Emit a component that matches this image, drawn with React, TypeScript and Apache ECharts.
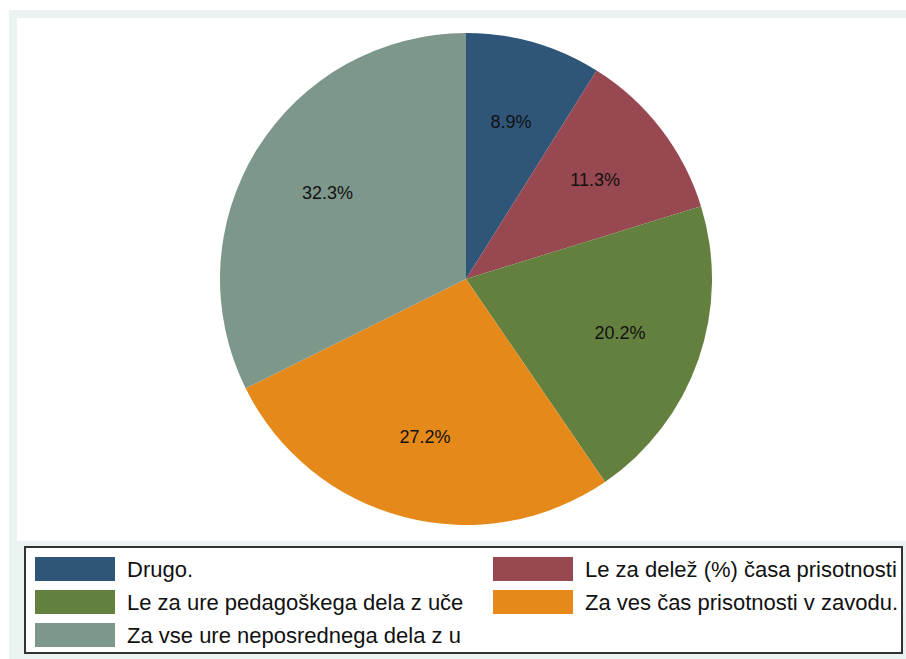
import React, { useEffect, useRef } from "react";
import * as echarts from "echarts";

const categories = [
  "Drugo.",
  "Le za delež (%) časa prisotnosti",
  "Le za ure pedagoškega dela z uče",
  "Za ves čas prisotnosti v zavodu.",
  "Za vse ure neposrednega dela z u",
];
const values = [8.9, 11.3, 20.2, 27.2, 32.3];
const colors = ["#2f5679", "#984850", "#64803f", "#e58a1a", "#7e978b"];
const legendLeftColumn = [categories[0], categories[2], categories[4]];
const legendRightColumn = [categories[1], categories[3]];

export default function App() {
  const ref = useRef<HTMLDivElement>(null);
  useEffect(() => {
    document.body.style.margin = "0";
    if (!ref.current) return;
    const chart = echarts.init(ref.current, null, { renderer: "svg" });
    const data = categories.map((name, i) => ({
      name,
      value: values[i],
      itemStyle: { color: colors[i] },
    }));
    const legendCommon = {
      orient: "vertical" as const,
      top: 557,
      padding: 0,
      itemWidth: 80,
      itemHeight: 24,
      itemGap: 9,
      icon: "rect",
      selectedMode: false,
      textStyle: {
        fontFamily: "Liberation Sans, Arial, sans-serif",
        fontSize: 22,
        color: "#111",
        lineHeight: 24,
        padding: [0, 0, 0, 7],
      },
    };
    chart.setOption({
      animation: false,
      backgroundColor: "#ffffff",
      graphic: [
        {
          type: "rect",
          z: -10,
          silent: true,
          shape: { x: 9, y: 10, width: 897, height: 649 },
          style: { fill: "#eaf2f3" },
        },
        {
          type: "rect",
          z: -9,
          silent: true,
          shape: { x: 17, y: 18, width: 889, height: 523 },
          style: { fill: "#ffffff" },
        },
        {
          type: "rect",
          z: -8,
          silent: true,
          shape: { x: 25, y: 547, width: 877, height: 106 },
          style: { fill: "#ffffff", stroke: "#333333", lineWidth: 2 },
        },
      ],
      legend: [
        { ...legendCommon, left: 35, data: legendLeftColumn },
        { ...legendCommon, left: 493, data: legendRightColumn },
      ],
      series: [
        {
          type: "pie",
          center: [466, 279],
          radius: [0, 246],
          startAngle: 90,
          clockwise: true,
          label: { show: false },
          labelLine: { show: false },
          emphasis: { disabled: true },
          itemStyle: { borderWidth: 0 },
          data,
        },
        {
          type: "pie",
          center: [466, 279],
          radius: [74, 246],
          startAngle: 90,
          clockwise: true,
          silent: true,
          legendHoverLink: false,
          emphasis: { disabled: true },
          itemStyle: { color: "rgba(0,0,0,0)", borderWidth: 0 },
          label: {
            show: true,
            position: "inside",
            formatter: "{c}%",
            fontFamily: "Liberation Sans, Arial, sans-serif",
            fontSize: 18,
            color: "#111",
          },
          labelLine: { show: false },
          data: categories.map((name, i) => ({
            name,
            value: values[i],
            itemStyle: { color: "rgba(0,0,0,0)" },
          })),
        },
      ],
    });
    return () => chart.dispose();
  }, []);
  return <div ref={ref} style={{ width: 906, height: 659 }} />;
}
